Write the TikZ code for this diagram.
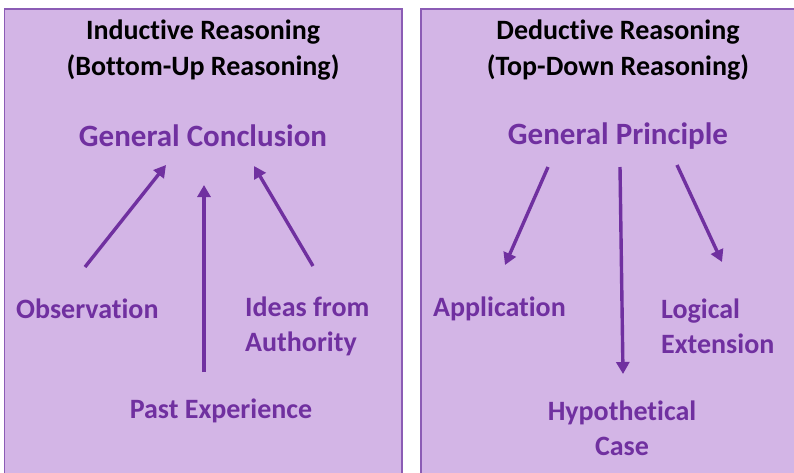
\documentclass[tikz,border=0pt]{standalone}
\usepackage{fontspec}
\setmainfont[Ligatures=NoCommon]{Carlito}
\usetikzlibrary{arrows.meta}
\definecolor{boxfill}{HTML}{D3B5E6}
\definecolor{boxline}{HTML}{8B5CB5}
\definecolor{txtpurple}{HTML}{7030A0}
\tikzset{
  panel/.style={draw=boxline, line width=1.3pt, fill=boxfill},
  title/.style={font=\bfseries\fontsize{28}{36}\selectfont, text=black, align=center, inner sep=0pt},
  head/.style={font=\bfseries\fontsize{31}{36}\selectfont, text=txtpurple, inner sep=0pt},
  lab/.style={font=\bfseries\fontsize{28}{35}\selectfont, text=txtpurple, inner sep=0pt},
  arr/.style={draw=txtpurple, line width=3.4pt, -{Triangle[width=13pt,length=12pt]}}
}
\begin{document}
\begin{tikzpicture}[x=1pt,y=-1pt]
\useasboundingbox (0,0) rectangle (794,472);
\begin{scope}
\clip (0,0) rectangle (794,472);
\draw[panel] (4.5,9) rectangle (402,490);
\draw[panel] (421,9) rectangle (810,490);
\end{scope}
% left panel
\node[title] (indt) at (203,50) {Inductive Reasoning\\(Bottom-Up Reasoning)};
\node[head] (gc) at (203,136) {General Conclusion};
\node[lab, anchor=west] (obs) at (16,309) {Observation};
\node[lab, anchor=west, align=left] (ida) at (245,326.5) {Ideas from\\Authority};
\node[lab] (pe) at (221,411) {Past Experience};
\coordinate (o1) at (85,267); \coordinate (o2) at (166,165);
\coordinate (p1) at (204,372); \coordinate (p2) at (204,185);
\coordinate (i1) at (313,266); \coordinate (i2) at (254,166);
\draw[arr] (o1) -- (o2);
\draw[arr] (p1) -- (p2);
\draw[arr] (i1) -- (i2);
% right panel
\node[title] (dedt) at (618,50) {Deductive Reasoning\\(Top-Down Reasoning)};
\node[head] (gp) at (618,136) {General Principle};
\node[lab, anchor=west] (app) at (433,309) {Application};
\node[lab, anchor=west, align=left] (lex) at (661,326.5) {Logical\\Extension};
\node[lab, align=center] (hyp) at (622,428.5) {Hypothetical\\Case};
\coordinate (a1) at (548,167); \coordinate (a2) at (505,265);
\coordinate (h1) at (620,167); \coordinate (h2) at (623,374);
\coordinate (l1) at (677,165); \coordinate (l2) at (722,262);
\draw[arr] (a1) -- (a2);
\draw[arr] (h1) -- (h2);
\draw[arr] (l1) -- (l2);
\end{tikzpicture}
\end{document}
